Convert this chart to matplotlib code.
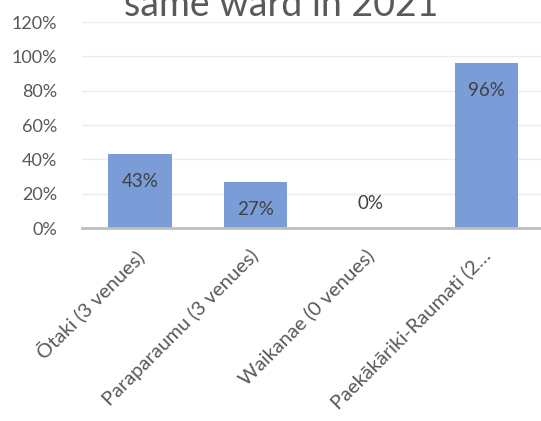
import matplotlib
matplotlib.use("Agg")
import matplotlib.pyplot as plt
from matplotlib.ticker import FuncFormatter
from matplotlib.transforms import ScaledTranslation

# Share of venues in the same ward, per ward
wards = ["Ōtaki (3 venues)", "Paraparaumu (3 venues)", "Waikanae (0 venues)",
         "Paekākāriki-Raumati (2…"]
share = [0.43, 0.27, 0.00, 0.96]
labels = ["43%", "27%", "0%", "96%"]
y_ticks = [0, 0.2, 0.4, 0.6, 0.8, 1.0, 1.2]

plt.rcParams['font.family'] = ['Lato', 'DejaVu Sans']

fig = plt.figure(figsize=(5.41, 4.21), dpi=100)
ax = fig.add_axes([0.152, 0.4584, 0.854, 0.4893])

x = range(len(wards))
ax.bar(x, share, width=0.55, color="#7a9dd7", zorder=2)

ax.set_ylim(0, 1.2)
ax.set_xlim(-0.5, len(wards) - 0.5)
ax.set_yticks(y_ticks)
ax.yaxis.set_major_formatter(FuncFormatter(lambda v, p: f"{v * 100:.0f}%"))
ax.grid(axis="y", color="#ececec", linewidth=1, zorder=0)

for s in ["top", "right", "left"]:
    ax.spines[s].set_visible(False)
ax.spines["bottom"].set_color("#bfbfbf")
ax.spines["bottom"].set_linewidth(2)
ax.spines["bottom"].set_zorder(3)

ax.tick_params(axis="y", length=0, pad=18, labelsize=13, labelcolor="#595959")
ax.tick_params(axis="x", length=0, pad=13, labelsize=14.5, labelcolor="#595959")
ax.set_xticks(list(x))
ax.set_xticklabels(wards, rotation=45, ha="right", rotation_mode="anchor")
# nudge the slanted labels a little to the left
shift = ScaledTranslation(-6 / 100, 0, fig.dpi_scale_trans)
for lab in ax.get_xticklabels():
    lab.set_transform(lab.get_transform() + shift)

# value labels just inside the top of each bar
for i, (v, t) in enumerate(zip(share, labels)):
    if v > 0:
        ax.annotate(t, (i, v), xytext=(0, -20), textcoords="offset points",
                    ha="center", va="center", fontsize=13.5, color="#404040")
    else:
        ax.annotate(t, (i, v), xytext=(0, 18), textcoords="offset points",
                    ha="center", va="center", fontsize=13.5, color="#404040")

fig.text(0.52, 0.962, "same ward in 2021", ha="center", va="baseline",
         fontsize=27, color="#595959")

fig.savefig("out.png", dpi=100)
